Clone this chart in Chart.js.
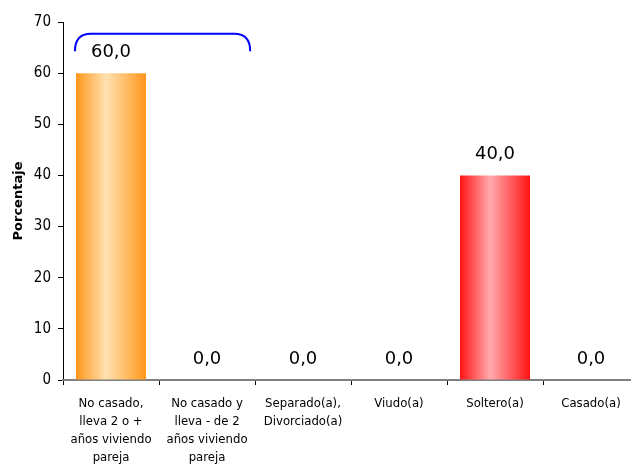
<!DOCTYPE html>
<html>
<head>
<meta charset="utf-8">
<script src="https://cdn.jsdelivr.net/npm/chart.js@4/dist/chart.umd.min.js"></script>
<style>
  html, body { margin: 0; padding: 0; overflow: hidden; background: #fff; }
  #wrap { width: 640px; height: 480px; position: relative; }
</style>
</head>
<body>
<div id="wrap"><canvas id="chart"></canvas></div>
<script>
// categories and values
const categories = [
    ['No casado,', 'lleva 2 o +', 'años viviendo', 'pareja'],
    ['No casado y', 'lleva - de 2', 'años viviendo', 'pareja'],
    ['Separado(a),', 'Divorciado(a)'],
    ['Viudo(a)'],
    ['Soltero(a)'],
    ['Casado(a)']
];
const porcentajes = [60.0, 0.0, 0.0, 0.0, 40.0, 0.0];
const yTicks = [0, 10, 20, 30, 40, 50, 60, 70];

const barPct = 0.73;
const palette = [
    ['#FF961A', '#FFE2B2'],
    ['#FF961A', '#FFE2B2'],
    ['#FF961A', '#FFE2B2'],
    ['#FF961A', '#FFE2B2'],
    ['#FF1414', '#FFAAAE'],
    ['#FF961A', '#FFE2B2']
];

function barGradient(c) {
    const chart = c.chart;
    if (!chart.chartArea) return palette[c.dataIndex][0];
    const xs = chart.scales.x;
    const cx = xs.getPixelForValue(c.dataIndex);
    const w = (xs.width / categories.length) * barPct;
    const g = chart.ctx.createLinearGradient(cx - w / 2, 0, cx + w / 2, 0);
    const [edge, mid] = palette[c.dataIndex];
    g.addColorStop(0, edge);
    g.addColorStop(0.43, mid);
    g.addColorStop(1, edge);
    return g;
}

// value labels above bars
const valueLabels = {
    id: 'valueLabels',
    afterDatasetsDraw(chart) {
        const ctx = chart.ctx;
        const meta = chart.getDatasetMeta(0);
        ctx.save();
        ctx.font = '18px "DejaVu Sans"';
        ctx.fillStyle = '#000';
        ctx.textAlign = 'center';
        ctx.textBaseline = 'alphabetic';
        meta.data.forEach((bar, i) => {
            ctx.fillText(porcentajes[i].toFixed(1).replace('.', ','), bar.x, bar.y - 16);
        });
        ctx.restore();
    }
};

// blue bracket over the first two categories
const bracket = {
    id: 'bracket',
    afterDatasetsDraw(chart) {
        const xs = chart.scales.x, ys = chart.scales.y;
        const step = xs.width / categories.length;
        const x0 = xs.getPixelForValue(0) - step * barPct / 2 - 1;
        const x1 = xs.getPixelForValue(1) + step * 0.45;
        const yTop = ys.getPixelForValue(67.7);
        const yEnd = ys.getPixelForValue(64.3);
        const r = 16;
        const ctx = chart.ctx;
        ctx.save();
        ctx.strokeStyle = '#0000FF';
        ctx.lineWidth = 2;
        ctx.beginPath();
        ctx.moveTo(x0, yEnd);
        ctx.quadraticCurveTo(x0, yTop, x0 + r, yTop);
        ctx.lineTo(x1 - r, yTop);
        ctx.quadraticCurveTo(x1, yTop, x1, yEnd);
        ctx.stroke();
        ctx.restore();
    }
};

new Chart(document.getElementById('chart').getContext('2d'), {
    type: 'bar',
    data: {
        labels: categories,
        datasets: [{
            data: porcentajes,
            backgroundColor: barGradient,
            barPercentage: barPct,
            categoryPercentage: 1
        }]
    },
    options: {
        responsive: true,
        maintainAspectRatio: false,
        animation: false,
        layout: { padding: { top: 22, right: 1, left: 11, bottom: 0 } },
        plugins: {
            legend: { display: false },
            tooltip: { enabled: false }
        },
        scales: {
            y: {
                min: 0,
                max: 70,
                afterBuildTicks(s) { s.ticks = yTicks.map(v => ({ value: v })); },
                afterFit(s) { s.width = 52; },
                border: { color: '#000', width: 1 },
                grid: { drawOnChartArea: false, tickLength: 5, color: '#000' },
                ticks: { color: '#000', padding: 7, font: { family: '"DejaVu Sans Condensed", "DejaVu Sans"', size: 15 } },
                title: {
                    display: true,
                    text: 'Porcentaje',
                    color: '#000',
                    padding: { top: 0, bottom: 0 },
                    font: { family: '"DejaVu Sans"', size: 13, weight: 'bold' }
                }
            },
            x: {
                afterFit(s) { s.height = 100; },
                border: { color: '#808080', width: 2 },
                grid: { drawOnChartArea: false, tickLength: 5, color: '#000', offset: true },
                ticks: {
                    color: '#000',
                    padding: 10,
                    maxRotation: 0,
                    autoSkip: false,
                    font: { family: '"DejaVu Sans Condensed", "DejaVu Sans"', size: 13, lineHeight: 1.38 }
                }
            }
        }
    },
    plugins: [valueLabels, bracket]
});
</script>
</body>
</html>
